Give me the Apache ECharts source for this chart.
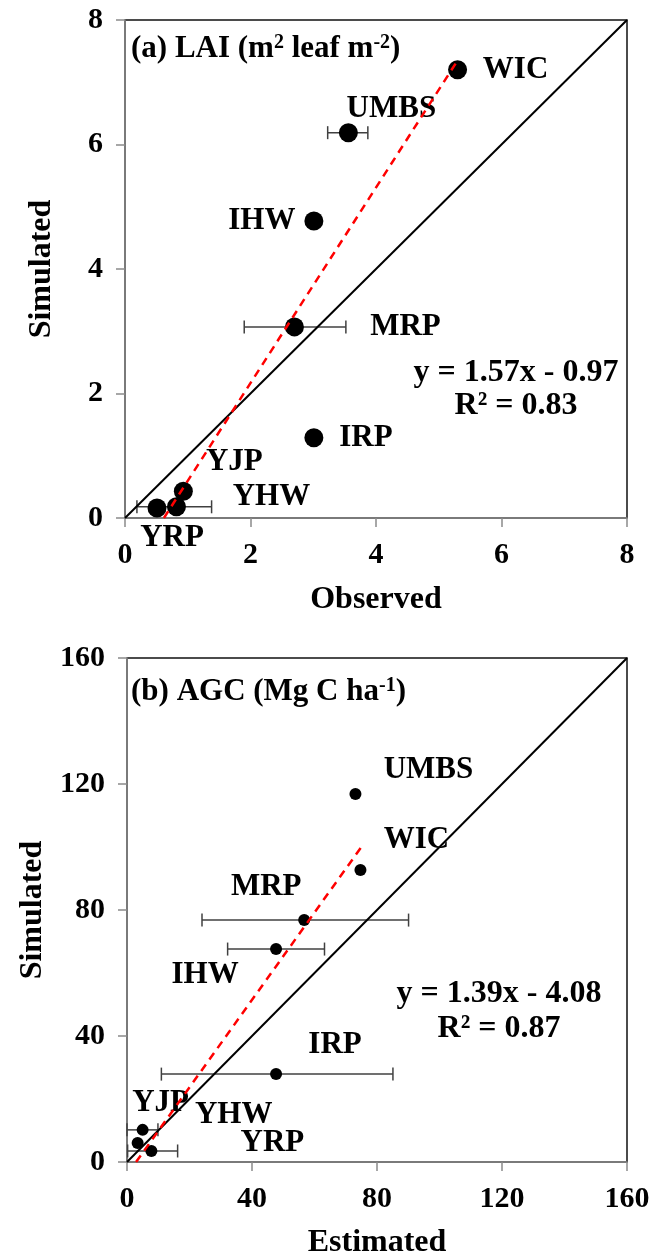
<!DOCTYPE html>
<html>
<head>
<meta charset="utf-8">
<script src="https://cdn.jsdelivr.net/npm/echarts@6/dist/echarts.min.js"></script>
<style>
  html, body { margin: 0; padding: 0; background: #fff; }
  #chart { width: 653px; height: 1260px; }
</style>
</head>
<body>
<div id="chart"></div>
<script>
// panel (a) LAI
const sitesA = ["WIC", "UMBS", "IHW", "MRP", "IRP", "YJP", "YHW", "YRP"];
const observedA = [5.3, 3.56, 3.01, 2.7, 3.01, 0.93, 0.82, 0.51];
const simulatedA = [7.2, 6.19, 4.77, 3.07, 1.29, 0.43, 0.18, 0.16];
const errSitesA = ["UMBS", "MRP", "YHW"];
const errLowA = [3.23, 1.9, 0.19];
const errHighA = [3.87, 3.52, 1.38];
const fitLineA = [[0.62, 0], [5.3, 7.35]];
const ticksA = [0, 2, 4, 6, 8];

// panel (b) AGC
const sitesB = ["WIC", "UMBS", "IHW", "MRP", "IRP", "YJP", "YHW", "YRP"];
const estimatedB = [74.7, 73.1, 47.7, 56.7, 47.7, 5.0, 3.4, 7.8];
const simulatedB = [92.7, 116.8, 67.6, 76.8, 27.9, 10.2, 6.0, 3.5];
const errSitesB = ["MRP", "IHW", "IRP", "YJP", "YRP"];
const errLowB = [24.0, 32.2, 11.0, 0, 0.2];
const errHighB = [90.1, 63.2, 85.1, 9.9, 16.2];
const fitLineB = [[2.9, 0], [75, 100]];
const ticksB = [0, 40, 80, 120, 160];

// label placement (px offset from the dot)
const labelOffA = {
  WIC: [58, 0], UMBS: [43, -24], IHW: [-52, 0], MRP: [111, 0],
  IRP: [52, 0], YJP: [51, -29], YHW: [95, -10], YRP: [15, 30]
};
const labelOffB = {
  WIC: [56, -30], UMBS: [73, -24], IHW: [-71, 26], MRP: [-38, -33],
  IRP: [59, -29], YJP: [18, -27], YHW: [96, -28], YRP: [121, -8]
};

const FONT = "Liberation Serif";
const chart = echarts.init(document.getElementById("chart"));

function axis(gridIndex, name, ticks, gap) {
  return {
    gridIndex: gridIndex,
    min: ticks[0],
    max: ticks[ticks.length - 1],
    interval: ticks[1] - ticks[0],
    name: name,
    nameLocation: "middle",
    nameGap: gap,
    nameTextStyle: { fontFamily: FONT, fontWeight: "bold", fontSize: 32, color: "#000" },
    axisLine: { show: true, lineStyle: { color: "#8a8a8a", width: 1.5 } },
    axisTick: { show: true, length: 9, lineStyle: { color: "#8a8a8a", width: 1.5 } },
    axisLabel: { fontFamily: FONT, fontWeight: "bold", fontSize: 30, color: "#000", margin: 22 },
    splitLine: { show: false }
  };
}

function errorBar(params, api) {
  const y = api.value(1);
  const lo = api.coord([api.value(2), y]);
  const hi = api.coord([api.value(3), y]);
  const h = 6.5;
  const st = { stroke: "#404040", lineWidth: 1.5 };
  return {
    type: "group",
    children: [
      { type: "line", shape: { x1: lo[0], y1: lo[1], x2: hi[0], y2: hi[1] }, style: st },
      { type: "line", shape: { x1: lo[0], y1: lo[1] - h, x2: lo[0], y2: lo[1] + h }, style: st },
      { type: "line", shape: { x1: hi[0], y1: hi[1] - h, x2: hi[0], y2: hi[1] + h }, style: st }
    ]
  };
}

function points(sites, xs, ys, offs) {
  return sites.map((s, i) => ({
    name: s,
    value: [xs[i], ys[i]],
    label: { offset: offs[s] }
  }));
}

function errData(errSites, lows, highs, sites, xs, ys) {
  return errSites.map((s, i) => {
    const k = sites.indexOf(s);
    return [xs[k], ys[k], lows[i], highs[i]];
  });
}

const labelStyle = {
  show: true,
  position: "inside",
  formatter: "{b}",
  fontFamily: FONT,
  fontWeight: "bold",
  fontSize: 31,
  color: "#000",
  align: "center",
  verticalAlign: "middle"
};

function panelSeries(idx, sites, xs, ys, offs, errSites, lows, highs, fit, maxV, dot) {
  return [
    {
      type: "custom",
      xAxisIndex: idx, yAxisIndex: idx,
      renderItem: errorBar,
      encode: { x: [0, 2, 3], y: 1 },
      data: errData(errSites, lows, highs, sites, xs, ys),
      z: 2
    },
    {
      type: "scatter",
      xAxisIndex: idx, yAxisIndex: idx,
      symbolSize: dot,
      itemStyle: { color: "#000", opacity: 1 },
      label: labelStyle,
      data: points(sites, xs, ys, offs),
      z: 3
    },
    {
      type: "line",
      xAxisIndex: idx, yAxisIndex: idx,
      data: [[0, 0], [maxV, maxV]],
      showSymbol: false,
      lineStyle: { color: "#000", width: 2 },
      z: 4
    },
    {
      type: "line",
      xAxisIndex: idx, yAxisIndex: idx,
      data: fit,
      showSymbol: false,
      lineStyle: { color: "#ff0000", width: 2.5, type: [8, 6] },
      z: 5
    }
  ];
}

const textBase = { fontFamily: FONT, fontWeight: "bold", fill: "#000" };
const supStyle = { fontFamily: FONT, fontWeight: "bold", fontSize: 20, verticalAlign: "top" };

const options = {
  animation: false,
  backgroundColor: "#fff",
  grid: [
    { left: 125, top: 20, width: 502, height: 498, show: true, borderColor: "#111", borderWidth: 1.5 },
    { left: 127, top: 658, width: 500, height: 504, show: true, borderColor: "#111", borderWidth: 1.5 }
  ],
  xAxis: [axis(0, "Observed", ticksA, 66), axis(1, "Estimated", ticksB, 65)],
  yAxis: [axis(0, "Simulated", ticksA, 67), axis(1, "Simulated", ticksB, 69)],
  series: [].concat(
    panelSeries(0, sitesA, observedA, simulatedA, labelOffA, errSitesA, errLowA, errHighA, fitLineA, 8, 19),
    panelSeries(1, sitesB, estimatedB, simulatedB, labelOffB, errSitesB, errLowB, errHighB, fitLineB, 160, 12)
  ),
  graphic: [
    {
      type: "text", left: 131, top: 33,
      style: Object.assign({}, textBase, {
        text: "(a) LAI (m{s|2} leaf m{s|-2})",
        fontSize: 31,
        rich: { s: supStyle }
      })
    },
    {
      type: "text", left: 131, top: 676,
      style: Object.assign({}, textBase, {
        text: "(b) AGC (Mg C ha{s|-1})",
        fontSize: 31,
        rich: { s: supStyle }
      })
    },
    {
      type: "text", x: 516, y: 389,
      style: Object.assign({}, textBase, {
        text: "y = 1.57x - 0.97\nR² = 0.83",
        fontSize: 32, lineHeight: 33, align: "center", verticalAlign: "middle"
      })
    },
    {
      type: "text", x: 499, y: 1011,
      style: Object.assign({}, textBase, {
        text: "y = 1.39x - 4.08\nR² = 0.87",
        fontSize: 32, lineHeight: 35, align: "center", verticalAlign: "middle"
      })
    }
  ]
};

chart.setOption(options);
window.addEventListener("resize", () => {
  chart.resize();
});
</script>
</body>
</html>
